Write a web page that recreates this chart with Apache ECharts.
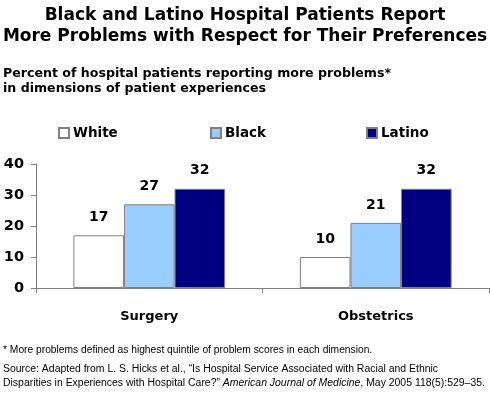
<!DOCTYPE html>
<html><head><meta charset="utf-8">
<script src="https://cdn.jsdelivr.net/npm/echarts@6/dist/echarts.min.js"></script>
<style>html,body{margin:0;padding:0;background:#fff;}#c{width:490px;height:395px;}</style>
</head><body><div id="c"></div>
<script>
const categories = ['Surgery', 'Obstetrics'];
const seriesNames = ['White', 'Black', 'Latino'];
const whiteValues = [17, 10];
const blackValues = [27, 21];
const latinoValues = [32, 32];
const yTicks = [0, 10, 20, 30, 40];

const colors = ['#ffffff', '#99ccff', '#000080'];
const valuesList = [whiteValues, blackValues, latinoValues];
const bold = 'DejaVu Sans';
const chart = echarts.init(document.getElementById('c'), null, {renderer: 'canvas'});
const legendLefts = [58, 210, 366];

chart.setOption({
  animation: false,
  backgroundColor: '#fff',
  title: [
    {text: 'Black and Latino Hospital Patients Report\nMore Problems with Respect for Their Preferences',
     left: 'center', top: 5, padding: 0,
     textStyle: {fontFamily: bold, fontWeight: 'bold', fontSize: 17, lineHeight: 21, color: '#000'}},
    {text: 'Percent of hospital patients reporting more problems*\nin dimensions of patient experiences',
     left: 3, top: 66, padding: 0,
     textStyle: {fontFamily: bold, fontWeight: 'bold', fontSize: 12.6, lineHeight: 15, color: '#000'}},
    {text: '* More problems defined as highest quintile of problem scores in each dimension.',
     left: 3, top: 345, padding: 0,
     textStyle: {fontFamily: 'Liberation Sans', fontWeight: 'normal', fontSize: 10.25, color: '#000'}},
    {text: 'Source: Adapted from L. S. Hicks et al., \u201cIs Hospital Service Associated with Racial and Ethnic\nDisparities in Experiences with Hospital Care?\u201d {i|American Journal of Medicine}, May 2005 118(5):529\u201335.',
     left: 3, top: 362, padding: 0,
     textStyle: {fontFamily: 'Liberation Sans', fontWeight: 'normal', fontSize: 10.45, lineHeight: 14, color: '#000',
       rich: {i: {fontStyle: 'italic', fontFamily: 'Liberation Sans', fontSize: 10.45, lineHeight: 14}}}}
  ],
  legend: seriesNames.map((n, i) => ({
    data: [{name: n, icon: 'rect'}], left: legendLefts[i], top: 126, padding: 0,
    itemWidth: 10, itemHeight: 10, itemGap: 5,
    textStyle: {fontFamily: bold, fontWeight: 'bold', fontSize: 13.5, color: '#000', padding: [0,0,0,-1]},
    selectedMode: false
  })),
  grid: {left: 36, right: 1, top: 164, bottom: 107, containLabel: false},
  xAxis: {
    type: 'category', data: categories,
    axisLine: {lineStyle: {color: '#808080', width: 1}},
    axisTick: {show: true, length: 5, lineStyle: {color: '#808080'}},
    axisLabel: {fontFamily: bold, fontWeight: 'bold', fontSize: 13, color: '#000', margin: 22}
  },
  yAxis: {
    type: 'value', min: 0, max: 40, interval: 10,
    splitLine: {show: false},
    axisLine: {show: true, lineStyle: {color: '#808080', width: 1}},
    axisTick: {show: true, length: 5, lineStyle: {color: '#808080'}},
    axisLabel: {fontFamily: bold, fontWeight: 'bold', fontSize: 14.5, color: '#000', margin: 12,
      formatter: v => yTicks.includes(v) ? String(v) : ''}
  },
  series: seriesNames.map((n, i) => ({
    name: n, type: 'bar', data: valuesList[i],
    barGap: '0%', barCategoryGap: '33%',
    itemStyle: {color: colors[i], borderColor: '#808080', borderWidth: 1},
    label: {show: true, position: 'top', distance: 11, fontFamily: bold, fontWeight: 'bold', fontSize: 14, color: '#000'}
  }))
});
</script></body></html>
